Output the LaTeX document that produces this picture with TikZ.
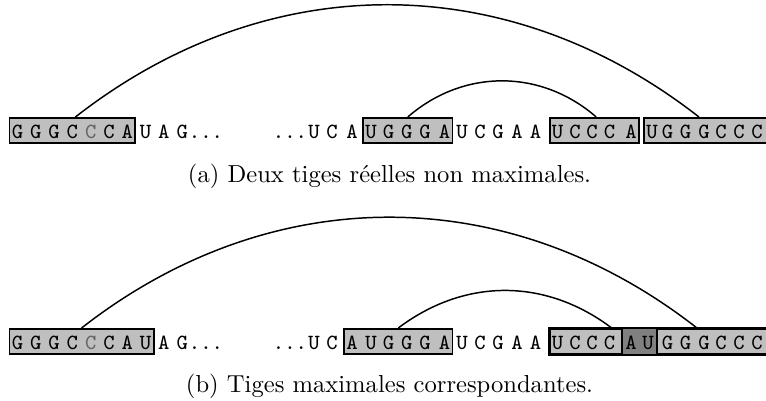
\documentclass[tikz,border=0pt]{standalone}
\usetikzlibrary{fit,backgrounds,calc}
\begin{document}
\begin{tikzpicture}[x=0.4067pt,y=-0.4067pt,
  base/.style={inner sep=0pt,minimum width=5.3pt,text height=8.05pt,
    text depth=1.9pt,anchor=base,font=\fontsize{8.8}{10}\selectfont\ttfamily},
  stem/.style={draw,line width=0.8pt,fill=black!25,inner xsep=0.4pt,inner ysep=0pt},
  pair/.style={line width=0.6pt}]
  \useasboundingbox (0,0) rectangle (766,401);
  % bases, same columns in both rows
  \foreach \r/\y/\u in {a/138.3/652,b/349.3/648}{
    \foreach \l/\c [count=\i] in {G/black,G/black,G/black,C/black,C/black!60,
        C/black,A/black,U/black,A/black,G/black}
      \node[base,text=\c] (\r l\i) at ({17.5+18.3*(\i-1)},\y) {\l};
    \node[base] (\r dl) at (206,\y) {...};
    \node[base] (\r dr) at (290,\y) {...};
    \foreach \l/\x [count=\i] in {U/314,C/332,A/352,U/371,G/388.5,G/406.7,
        G/425,A/444.5,U/462,C/480,G/498,A/517,A/535.5,U/557.5,C/575,C/592,
        C/609.5,A/631,U/\u,G/667.5,G/685.5,G/704,C/721,C/739,C/757}
      \node[base] (\r r\i) at (\x,\y) {\l};
    \coordinate (\r rim) at (772,\y);
  }
  \node[anchor=base] (capa) at (389.5,182.5) {(a) Deux tiges réelles non maximales.};
  \node[anchor=base] (capb) at (389.5,393) {(b) Tiges maximales correspondantes.};
  % stems
  \begin{scope}[on background layer]
    \node[stem,fit=(al1)(al7)] (s1) {};
    \node[stem,fit=(ar4)(ar8)] (s2) {};
    \node[stem,fit=(ar14)(ar18)] (s3) {};
    \node[stem,fit=(ar19)(ar25)(arim)] (s4) {};
    \node[stem,fit=(bl1)(bl8)] (t1) {};
    \node[stem,fit=(br3)(br8)] (t2) {};
    \node[stem,fit=(br14)(br19)] (t3) {};
    \node[stem,fit=(br18)(br25)(brim)] (t4) {};
    \fill[black!50] (t4.south west) rectangle (t3.north east);
    \draw[line width=0.8pt] (t3.south west) rectangle (t3.north east)
      (t4.south west) rectangle (t4.north east);
  \end{scope}
  \draw[pair] ($(s1.north)+(3,0)$) to[bend left=38] ($(s4.north)+(-9.5,0)$);
  \draw[pair] (s2.north) to[bend left=41] ($(s3.north)+(2,0)$);
  \draw[pair] (t1.north) to[bend left=38] ($(t4.north)+(-1,0)$);
  \draw[pair] (t2.north) to[bend left=37] ($(t3.north)+(9,0)$);
\end{tikzpicture}
\end{document}
